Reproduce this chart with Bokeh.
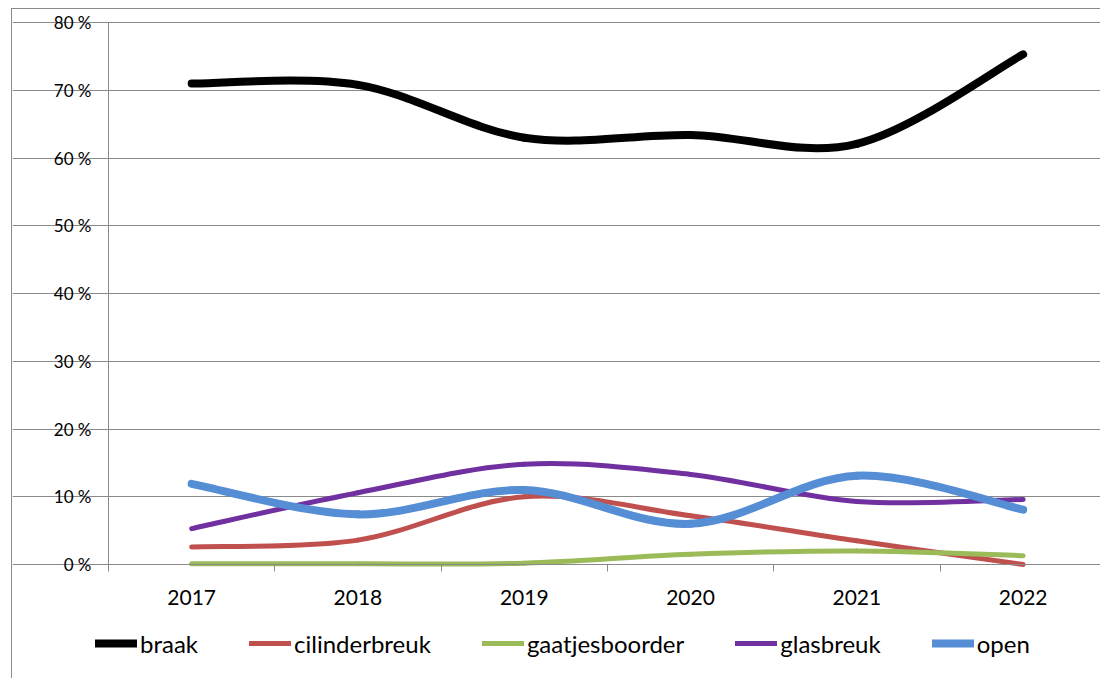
from bokeh.plotting import figure
from bokeh.models import (Range1d, FixedTicker, PrintfTickFormatter, Legend, LegendItem,
                          ColumnDataSource)
from bokeh.embed import file_html
from bokeh.resources import INLINE

years = [2017, 2018, 2019, 2020, 2021, 2022]
braak = [71.0, 70.8, 63.0, 63.4, 62.1, 75.3]
cilinderbreuk = [2.6, 3.6, 10.0, 7.2, 3.5, 0.0]
gaatjesboorder = [0.1, 0.1, 0.2, 1.5, 2.0, 1.3]
glasbreuk = [5.3, 10.6, 14.8, 13.3, 9.3, 9.6]
open_ = [11.9, 7.4, 11.0, 6.0, 13.1, 8.1]

series = [
    ("braak", braak, "#000000", 8),
    ("cilinderbreuk", cilinderbreuk, "#C0504D", 5),
    ("gaatjesboorder", gaatjesboorder, "#9BBB59", 5),
    ("glasbreuk", glasbreuk, "#7030A0", 5),
    ("open", open_, "#558ED5", 8),
]

y_ticks = [0, 10, 20, 30, 40, 50, 60, 70, 80]
cat_bounds = [2016.5, 2017.5, 2018.5, 2019.5, 2020.5, 2021.5, 2022.5]

FONT = "Lato"
GRAY = "#8a8a8a"

W, H = 1089, 670
PX_X = 166.3          # pixels per category
PX_Y = 542 / 80       # pixels per percent
LEFT_PAD = 96         # pixels from frame left to the y axis
TOP_PAD = 13          # pixels from frame top to the 80 % line
x0 = cat_bounds[0] - LEFT_PAD / PX_X
x1 = cat_bounds[0] + (W - LEFT_PAD) / PX_X
y1 = y_ticks[-1] + TOP_PAD / PX_Y
y0 = y1 - H / PX_Y

p = figure(width=W, height=H, output_backend="svg", toolbar_location=None,
           x_range=Range1d(x0, x1), y_range=Range1d(y0, y1),
           min_border_left=0, min_border_right=0, min_border_top=0, min_border_bottom=0)
p.styles = {"border-top": f"1px solid {GRAY}", "border-left": f"1px solid {GRAY}",
            "margin-left": "11px", "margin-top": "8px"}
p.outline_line_color = None
p.background_fill_color = "white"
p.border_fill_color = "white"

# x axis fixed at 0 %
p.xaxis.fixed_location = 0
p.xaxis.bounds = (cat_bounds[0], x1)
p.xaxis.ticker = FixedTicker(ticks=years, minor_ticks=cat_bounds)
p.xaxis.major_tick_out = 0
p.xaxis.major_tick_in = 0
p.xaxis.minor_tick_out = 7
p.xaxis.minor_tick_in = 0
p.xaxis.minor_tick_line_color = GRAY
p.xaxis.axis_line_color = GRAY
p.xaxis.major_label_text_font = FONT
p.xaxis.major_label_text_font_size = "21px"
p.xaxis.major_label_text_color = "#000000"
p.xaxis.major_label_standoff = 18

# y axis fixed at left category boundary
p.yaxis.fixed_location = cat_bounds[0]
p.yaxis.bounds = (0, y_ticks[-1])
p.yaxis.ticker = FixedTicker(ticks=y_ticks)
p.yaxis.formatter = PrintfTickFormatter(format="%d %%")
p.yaxis.minor_tick_line_color = None
p.yaxis.major_tick_out = 5
p.yaxis.major_tick_in = 0
p.yaxis.major_tick_line_color = GRAY
p.yaxis.axis_line_color = GRAY
p.yaxis.major_label_text_font = FONT
p.yaxis.major_label_text_font_size = "17px"
p.yaxis.major_label_text_color = "#000000"
p.yaxis.major_label_standoff = 12

p.xgrid.grid_line_color = None
p.ygrid.ticker = FixedTicker(ticks=y_ticks)
p.ygrid.bounds = (cat_bounds[0], x1)
p.ygrid.grid_line_color = GRAY
p.ygrid.grid_line_width = 1


def smooth_controls(xs, ys):
    n = len(xs)
    d = dict(x0=[], y0=[], x1=[], y1=[], cx0=[], cy0=[], cx1=[], cy1=[])
    for i in range(n - 1):
        a = i - 1 if i > 0 else i
        b = i + 2 if i + 2 < n else i + 1
        d["x0"].append(xs[i]); d["y0"].append(ys[i])
        d["x1"].append(xs[i + 1]); d["y1"].append(ys[i + 1])
        d["cx0"].append(xs[i] + (xs[i + 1] - xs[a]) / 6)
        d["cy0"].append(ys[i] + (ys[i + 1] - ys[a]) / 6)
        d["cx1"].append(xs[i + 1] - (xs[b] - xs[i]) / 6)
        d["cy1"].append(ys[i + 1] - (ys[b] - ys[i]) / 6)
    return d


items = []
for name, vals, color, w in series:
    src = ColumnDataSource(smooth_controls(years, vals))
    r = p.bezier(x0="x0", y0="y0", x1="x1", y1="y1", cx0="cx0", cy0="cy0",
                 cx1="cx1", cy1="cy1", source=src, line_color=color, line_width=w,
                 line_cap="round", line_join="round")
    items.append(LegendItem(label=name, renderers=[r]))

legend = Legend(items=items, orientation="horizontal", location=(83, 21),
                padding=0, margin=0, spacing=51, glyph_width=42, glyph_height=30,
                label_height=30, label_standoff=3, border_line_color=None,
                background_fill_alpha=0, label_text_font=FONT,
                label_text_font_size="24px", label_text_color="#000000")
p.add_layout(legend, "center")

open("out.html", "w").write(file_html(p, INLINE))
